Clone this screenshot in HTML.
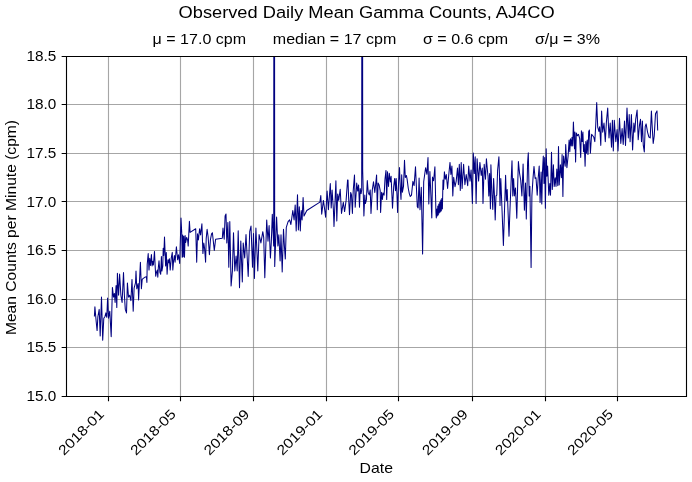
<!DOCTYPE html><html><head><meta charset="utf-8"><style>html,body{margin:0;padding:0;background:#fff;}svg{display:block;will-change:transform;}text{font-family:"Liberation Sans",sans-serif;fill:#000;}</style></head><body>
<svg width="692" height="482" viewBox="0 0 692 482">
<rect x="0" y="0" width="692" height="482" fill="#fff"/>
<path d="M108.5 56.5V396.5 M180.5 56.5V396.5 M253.5 56.5V396.5 M326.5 56.5V396.5 M398.5 56.5V396.5 M472.5 56.5V396.5 M545.5 56.5V396.5 M617.5 56.5V396.5" stroke="#808080" stroke-opacity="0.7" stroke-width="1.11" fill="none"/>
<path d="M66.5 56.5H686.5 M66.5 104.5H686.5 M66.5 153.5H686.5 M66.5 201.5H686.5 M66.5 250.5H686.5 M66.5 299.5H686.5 M66.5 347.5H686.5 M66.5 396.5H686.5" stroke="#808080" stroke-opacity="0.7" stroke-width="1.11" fill="none"/>
<svg x="66" y="56" width="621" height="341" viewBox="66 56 621 341" overflow="hidden"><polyline points="94.4,316.5 94.9,306.8 96.2,321.8 97.1,330.6 97.9,316.5 99.2,309.4 100.2,335.9 101.5,297.1 102.7,340.3 103.8,318.2 105.0,316.5 105.9,312.9 106.8,317.3 107.6,297.9 108.5,318.2 109.8,311.2 111.2,336.8 112.4,287.4 113.5,297.1 114.4,293.5 115.1,302.4 116.1,285.6 116.8,307.6 117.4,273.2 118.6,295.3 119.6,274.1 120.9,295.3 122.1,302.4 123.5,272.4 124.4,295.3 125.3,309.4 126.5,312.9 127.4,282.9 128.5,297.1 129.7,295.3 130.9,300.6 132.0,279.4 133.2,311.2 134.1,288.2 135.5,282.9 136.0,271.1 136.8,288.8 138.1,283.6 138.6,299.9 140.4,262.3 141.4,288.8 142.2,279.4 143.3,278.4 144.8,277.3 146.4,276.8 146.9,282.5 147.2,264.4 148.2,253.5 149.0,270.1 149.7,258.2 150.5,265.4 151.4,254.5 152.1,265.9 152.8,261.3 153.4,264.9 154.5,251.4 155.2,267.0 155.7,276.3 156.5,272.2 157.3,270.1 157.8,277.3 158.3,268.0 159.0,260.7 159.9,272.2 160.7,274.2 161.4,256.6 161.9,271.1 162.8,265.9 163.2,248.3 163.8,255.6 164.5,237.0 165.6,265.9 166.3,252.4 167.1,274.2 168.0,259.7 168.7,262.8 169.4,258.7 170.2,270.1 171.3,257.6 172.3,252.4 172.8,270.1 173.6,260.7 174.4,255.6 175.1,262.3 176.4,246.7 177.6,259.8 178.5,254.8 179.7,263.5 181.0,218.1 181.7,232.4 182.2,257.3 182.7,234.9 183.2,256.7 183.8,236.2 184.5,257.3 185.1,235.5 185.7,242.4 186.7,237.4 187.6,239.9 188.2,246.1 189.4,221.2 190.1,232.4 195.7,228.7 196.7,262.3 197.5,233.7 198.4,239.9 199.6,228.7 200.6,234.9 201.9,223.7 202.9,253.6 203.8,243.0 204.6,248.6 205.6,262.3 206.2,238.6 207.1,229.3 208.1,236.8 209.4,254.8 210.4,239.9 211.6,233.7 212.4,232.7 214.3,250.4 215.6,239.2 222.3,238.3 223.0,228.0 224.2,239.2 225.1,215.9 226.0,214.0 226.8,242.9 227.9,222.4 228.8,267.2 229.8,221.5 231.1,285.9 232.4,270.9 233.5,232.7 234.8,270.9 236.1,256.0 237.2,270.9 238.2,230.8 239.5,287.8 240.8,241.1 242.3,282.1 243.2,242.9 244.7,257.9 246.0,234.5 248.2,276.5 249.7,231.7 251.0,226.1 252.5,267.2 253.5,233.6 254.4,278.4 255.9,228.0 257.8,270.9 259.1,234.5 260.9,242.9 262.8,231.7 263.7,237.3 264.8,277.8 266.7,219.9 268.0,241.3 269.1,225.5 270.4,258.1 271.3,242.3 272.3,214.3 273.7,246.0 274.2,-600.0 274.7,266.5 276.6,217.1 277.9,246.0 278.8,234.8 280.1,260.9 281.0,234.8 282.2,272.1 283.5,229.2 284.4,246.0 285.3,259.1 286.3,227.3 288.1,221.7 289.6,219.9 290.9,224.5 292.8,210.5 294.1,219.9 295.2,204.9 296.2,231.1 297.5,194.7 298.4,230.1 299.3,206.8 300.3,231.1 301.2,210.5 302.1,219.9 303.1,197.5 304.0,216.1 306.8,210.5 319.9,202.1 320.8,195.6 321.7,214.3 323.4,200.4 324.7,209.7 325.6,217.2 327.1,191.1 328.4,209.7 330.3,183.6 331.2,207.9 332.1,190.1 333.4,209.7 334.0,226.5 335.9,180.8 336.8,220.9 337.7,193.9 338.7,200.4 340.2,189.2 341.5,213.5 343.3,202.3 344.6,211.6 346.1,200.4 347.6,179.9 348.0,179.9 348.6,197.4 349.5,214.8 350.7,192.4 351.5,194.9 352.4,213.5 353.2,191.1 354.5,174.9 355.2,207.3 356.1,193.6 356.7,183.0 357.7,191.1 358.6,184.9 359.5,207.3 360.2,188.6 361.1,193.6 361.7,190.0 362.2,-600.0 362.7,171.2 363.6,204.8 363.9,216.0 364.8,194.9 365.4,203.6 366.4,199.9 367.3,180.5 368.2,192.4 369.2,194.9 370.2,189.9 371.0,213.5 372.3,189.9 373.5,181.8 374.8,192.4 375.6,184.9 376.6,174.9 377.3,209.8 378.1,183.0 379.1,184.9 380.2,190.7 380.6,212.5 381.6,192.2 382.4,199.5 383.1,192.9 384.1,195.1 385.0,179.1 386.0,170.4 386.7,199.5 387.5,171.8 388.5,186.4 389.3,173.3 390.4,182.0 391.1,176.2 391.8,192.2 392.5,208.2 393.7,186.4 394.7,178.4 395.5,190.7 396.2,178.4 396.9,193.6 397.6,212.5 398.4,186.4 399.5,167.5 400.3,189.3 401.0,199.5 401.7,174.7 402.4,192.2 403.5,186.4 404.5,160.2 405.3,177.6 406.4,175.5 407.1,179.1 408.3,188.5 409.3,193.6 410.3,196.5 411.5,195.1 412.9,181.3 414.1,185.6 415.5,166.7 416.5,189.3 417.3,206.7 418.1,207.9 419.1,178.0 420.0,209.7 421.3,187.3 422.6,254.0 423.7,181.7 425.6,167.7 426.9,174.3 428.0,157.5 428.8,204.1 429.9,171.5 431.8,218.1 432.5,177.1 433.6,180.8 434.9,166.8 435.9,211.6 436.3,218.0 436.8,209.0 437.3,216.0 437.8,206.0 438.3,215.0 438.8,204.0 439.3,213.0 439.8,202.0 440.3,212.0 440.8,200.0 441.3,211.0 441.8,198.5 442.4,209.0 443.0,180.0 443.5,189.5 444.4,171.7 445.3,179.2 446.3,174.5 447.6,188.5 448.7,175.5 450.0,162.4 450.9,174.5 451.9,166.1 452.8,196.0 453.7,177.3 455.0,186.7 456.2,181.1 457.5,168.0 458.4,184.8 459.3,164.3 460.3,190.4 461.2,162.4 462.1,188.5 463.6,164.3 464.9,184.8 466.2,174.5 467.7,185.7 468.7,166.1 470.0,181.1 471.1,169.9 472.4,203.5 473.3,153.1 474.3,173.6 475.2,156.8 476.1,203.5 477.1,158.7 478.6,181.1 479.9,162.4 481.2,175.5 482.3,168.0 483.0,203.5 484.2,164.3 485.5,179.2 486.4,158.7 487.9,175.5 488.0,175.2 488.8,195.9 489.6,173.6 490.4,208.7 490.9,164.8 492.0,195.9 492.8,209.5 493.6,178.4 494.4,194.3 495.2,219.9 496.0,195.9 496.8,195.1 497.6,170.4 498.9,156.8 499.5,176.8 500.0,205.5 500.8,178.4 501.6,199.1 503.4,245.6 505.6,175.2 506.4,200.7 507.2,189.5 509.0,236.3 510.0,208.7 511.2,179.2 512.0,160.8 512.8,195.9 513.6,178.4 514.4,195.9 515.5,187.9 516.8,218.3 517.6,187.9 518.4,161.6 519.6,173.6 520.7,180.0 521.9,195.9 523.1,164.0 524.4,210.3 525.5,183.1 526.3,219.1 527.6,162.4 528.3,152.8 529.2,195.9 529.9,186.3 531.1,267.5 531.9,195.9 533.0,178.4 534.0,166.4 535.1,178.4 536.0,177.8 537.2,195.2 538.2,177.8 539.2,166.1 540.1,202.4 541.1,172.0 541.8,203.9 542.5,171.2 543.3,156.0 544.0,183.6 544.7,157.4 545.4,208.3 546.2,148.7 546.9,176.3 547.6,166.1 548.8,195.2 549.8,183.6 550.5,195.2 551.5,152.3 552.3,189.4 553.4,164.7 554.2,186.5 555.2,177.8 556.0,186.5 556.8,169.0 557.8,185.7 558.5,146.5 559.2,185.0 560.4,164.7 561.4,177.8 562.1,154.5 562.9,196.6 563.6,156.0 564.2,160.4 565.2,166.3 565.7,144.5 566.9,167.7 568.1,156.1 569.1,140.1 569.8,151.7 570.5,138.7 571.3,145.9 572.0,137.2 572.7,145.9 573.4,122.0 574.2,141.6 574.5,148.8 574.9,132.1 575.6,161.9 576.3,132.9 577.4,135.8 578.5,134.3 579.7,138.7 580.7,157.5 581.4,130.7 582.2,141.6 582.9,132.1 583.6,151.7 584.3,144.5 585.1,166.3 585.8,141.6 586.5,153.2 587.2,140.1 588.0,154.6 588.7,131.4 589.4,130.0 590.4,153.2 591.6,134.3 592.8,135.8 593.8,137.2 594.8,141.6 595.7,125.6 596.7,102.4 597.7,127.0 598.9,131.4 599.7,126.7 600.8,145.4 601.6,110.9 602.7,132.3 604.0,123.0 605.3,141.7 606.4,122.1 607.7,108.1 609.0,137.9 610.2,123.0 611.5,147.3 612.4,120.2 613.3,151.0 614.3,120.2 615.8,141.7 617.1,129.5 618.0,151.0 619.5,118.3 620.8,143.5 622.1,128.6 623.2,144.5 624.5,121.1 625.5,145.4 627.0,108.1 628.3,137.9 629.2,114.6 630.1,141.7 631.4,114.6 632.6,150.1 633.9,123.0 634.8,132.3 635.7,119.3 637.1,110.0 638.2,139.8 639.5,124.9 640.5,119.3 641.5,141.7 642.4,121.1 643.3,145.4 644.3,152.0 645.2,126.7 646.1,123.9 647.6,132.3 648.9,137.0 650.2,137.9 651.4,110.9 652.3,128.6 653.2,143.5 654.2,136.1 655.5,113.7 657.0,110.9 657.7,130.5" fill="none" stroke="#000080" stroke-width="1.04" stroke-linejoin="round" stroke-linecap="butt"/></svg>
<path d="M66.5 56.5H686.5V396.5H66.5Z" stroke="#000" stroke-width="1.11" fill="none" stroke-linecap="square"/>
<path d="M108.5 396.5v4.86 M180.5 396.5v4.86 M253.5 396.5v4.86 M326.5 396.5v4.86 M398.5 396.5v4.86 M472.5 396.5v4.86 M545.5 396.5v4.86 M617.5 396.5v4.86 M66.5 56.5h-4.86 M66.5 104.5h-4.86 M66.5 153.5h-4.86 M66.5 201.5h-4.86 M66.5 250.5h-4.86 M66.5 299.5h-4.86 M66.5 347.5h-4.86 M66.5 396.5h-4.86" stroke="#000" stroke-width="1.11" fill="none"/>
<text x="56.20" y="60.80" font-size="13.9" text-anchor="end" textLength="29.8" lengthAdjust="spacingAndGlyphs">18.5</text>
<text x="56.20" y="109.37" font-size="13.9" text-anchor="end" textLength="29.8" lengthAdjust="spacingAndGlyphs">18.0</text>
<text x="56.20" y="157.94" font-size="13.9" text-anchor="end" textLength="29.8" lengthAdjust="spacingAndGlyphs">17.5</text>
<text x="56.20" y="206.51" font-size="13.9" text-anchor="end" textLength="29.8" lengthAdjust="spacingAndGlyphs">17.0</text>
<text x="56.20" y="255.09" font-size="13.9" text-anchor="end" textLength="29.8" lengthAdjust="spacingAndGlyphs">16.5</text>
<text x="56.20" y="303.66" font-size="13.9" text-anchor="end" textLength="29.8" lengthAdjust="spacingAndGlyphs">16.0</text>
<text x="56.20" y="352.23" font-size="13.9" text-anchor="end" textLength="29.8" lengthAdjust="spacingAndGlyphs">15.5</text>
<text x="56.20" y="400.80" font-size="13.9" text-anchor="end" textLength="29.8" lengthAdjust="spacingAndGlyphs">15.0</text>
<text transform="translate(104.96,415.10) rotate(-45)" font-size="13.9" text-anchor="end" textLength="57.75" lengthAdjust="spacingAndGlyphs">2018-01</text>
<text transform="translate(176.73,415.10) rotate(-45)" font-size="13.9" text-anchor="end" textLength="57.75" lengthAdjust="spacingAndGlyphs">2018-05</text>
<text transform="translate(250.30,415.10) rotate(-45)" font-size="13.9" text-anchor="end" textLength="57.75" lengthAdjust="spacingAndGlyphs">2018-09</text>
<text transform="translate(323.27,415.10) rotate(-45)" font-size="13.9" text-anchor="end" textLength="57.75" lengthAdjust="spacingAndGlyphs">2019-01</text>
<text transform="translate(395.04,415.10) rotate(-45)" font-size="13.9" text-anchor="end" textLength="57.75" lengthAdjust="spacingAndGlyphs">2019-05</text>
<text transform="translate(468.60,415.10) rotate(-45)" font-size="13.9" text-anchor="end" textLength="57.75" lengthAdjust="spacingAndGlyphs">2019-09</text>
<text transform="translate(541.57,415.10) rotate(-45)" font-size="13.9" text-anchor="end" textLength="57.75" lengthAdjust="spacingAndGlyphs">2020-01</text>
<text transform="translate(613.94,415.10) rotate(-45)" font-size="13.9" text-anchor="end" textLength="57.75" lengthAdjust="spacingAndGlyphs">2020-05</text>
<text x="366.6" y="17.7" font-size="16.67" text-anchor="middle" textLength="376" lengthAdjust="spacingAndGlyphs">Observed Daily Mean Gamma Counts, AJ4CO</text>
<text x="376.3" y="44.2" font-size="13.9" text-anchor="middle" style="white-space:pre" textLength="447.375" lengthAdjust="spacingAndGlyphs">μ = 17.0 cpm      median = 17 cpm      σ = 0.6 cpm      σ/μ = 3%</text>
<text x="376.3" y="473" font-size="13.9" text-anchor="middle" textLength="33.375" lengthAdjust="spacingAndGlyphs">Date</text>
<text transform="translate(15.9,227.5) rotate(-90)" font-size="13.9" text-anchor="middle" textLength="215.125" lengthAdjust="spacingAndGlyphs">Mean Counts per Minute (cpm)</text>
</svg></body></html>
